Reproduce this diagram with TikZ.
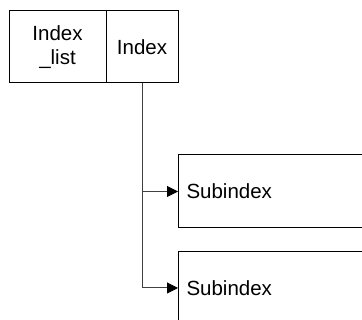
\documentclass[tikz,border=0pt]{standalone}
\usepackage{fontspec}
\setmainfont{Liberation Sans}
\usetikzlibrary{arrows.meta}
\begin{document}
\begin{tikzpicture}[x=1pt,y=1pt,
  every node/.style={font=\fontsize{20.5}{23.5}\selectfont},
  cell/.style={draw=black, line width=1pt, rectangle, inner sep=0pt, align=center},
  subbox/.style={draw=black, line width=1pt, rectangle, anchor=west, minimum height=73pt,
     text width=214pt, inner xsep=8pt, inner ysep=0pt, align=left},
  conn/.style={draw=black!75, line width=1pt},
  arr/.style={conn, -{Triangle[length=11pt,width=11pt,color=black]}}]
\useasboundingbox (0,0) rectangle (362,320);
\clip (0,0) rectangle (362,320);
\node[cell, minimum width=97pt, minimum height=72pt] (il) at (57.5,273) {Index\\\_list};
\node[cell, minimum width=72pt, minimum height=72pt] (ix) at (142,273) {Index};
\node[subbox] (s1) at (178,128.5) {Subindex};
\node[subbox] (s2) at (178,32) {Subindex};
\draw[conn] (ix.south) -- (ix.south |- s2.west);
\draw[arr] (ix.south |- s1.west) -- (s1.west);
\draw[arr] (ix.south |- s2.west) -- (s2.west);
\end{tikzpicture}
\end{document}
